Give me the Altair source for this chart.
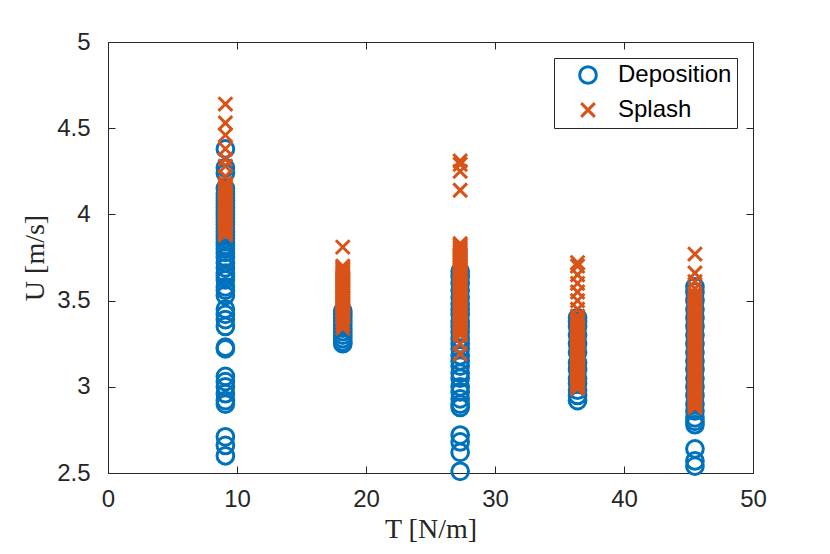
import altair as alt
import pandas as pd

# Surface tension columns (N/m)
T_values = [9.1, 18.2, 27.3, 36.4, 45.5]

# Impact velocities U (m/s)
dep_91 = [4.38, 4.27, 4.24, 4.15, 4.12, 4.10, 4.08, 4.06, 4.04, 4.02, 4.00, 3.98, 3.96,
          3.94, 3.92, 3.90, 3.88, 3.86, 3.84, 3.82, 3.80, 3.78, 3.75, 3.72, 3.69, 3.66,
          3.64, 3.62, 3.58, 3.56, 3.53, 3.45, 3.42, 3.39, 3.35, 3.23, 3.22, 3.06, 3.03,
          3.00, 2.96, 2.92, 2.90, 2.71, 2.66, 2.60]
spl_91 = [4.64, 4.53, 4.46, 4.38, 4.32, 4.28, 4.22, 4.18, 4.17, 4.16, 4.15, 4.14, 4.13,
          4.12, 4.11, 4.10, 4.09, 4.08, 4.07, 4.06, 4.05, 4.04, 4.03, 4.02, 4.01, 4.00,
          3.99, 3.98, 3.97, 3.96, 3.95, 3.94, 3.93, 3.92, 3.91, 3.90, 3.89, 3.88]

dep_182 = [3.44, 3.42, 3.40, 3.38, 3.36, 3.34, 3.32, 3.30, 3.28, 3.26, 3.25]
spl_182 = [3.81, 3.70, 3.69, 3.68, 3.67, 3.66, 3.65, 3.64, 3.63, 3.62, 3.61, 3.60, 3.59,
           3.58, 3.57, 3.56, 3.55, 3.54, 3.53, 3.52, 3.51, 3.50, 3.49, 3.48, 3.47, 3.46,
           3.45, 3.44, 3.43, 3.42, 3.41, 3.40, 3.38, 3.36, 3.34]

dep_273 = [3.67, 3.64, 3.60, 3.56, 3.52, 3.48, 3.45, 3.42, 3.38, 3.35, 3.32, 3.28, 3.25,
           3.22, 3.18, 3.15, 3.12, 3.08, 3.05, 3.00, 2.97, 2.93, 2.90, 2.88, 2.72, 2.68,
           2.62, 2.51]
spl_273 = [4.31, 4.29, 4.25, 4.14, 3.83, 3.82, 3.81, 3.80, 3.79, 3.78, 3.77, 3.76, 3.75,
           3.74, 3.73, 3.72, 3.71, 3.70, 3.69, 3.68, 3.67, 3.66, 3.65, 3.64, 3.63, 3.62,
           3.61, 3.60, 3.59, 3.58, 3.57, 3.56, 3.55, 3.54, 3.53, 3.52, 3.51, 3.50, 3.49,
           3.48, 3.47, 3.46, 3.45, 3.44, 3.43, 3.42, 3.41, 3.40, 3.39, 3.38, 3.37, 3.36,
           3.35, 3.34, 3.33, 3.32, 3.31, 3.30, 3.25, 3.19]

dep_364 = [3.40, 3.38, 3.35, 3.30, 3.25, 3.20, 3.14, 3.10, 3.05, 3.02, 2.98, 2.95, 2.92]
spl_364 = [3.72, 3.70, 3.65, 3.60, 3.55, 3.50, 3.45, 3.41, 3.39, 3.38, 3.37, 3.36, 3.35,
           3.34, 3.33, 3.32, 3.31, 3.30, 3.29, 3.28, 3.27, 3.26, 3.25, 3.24, 3.23, 3.22,
           3.21, 3.20, 3.19, 3.18, 3.17, 3.16, 3.15, 3.14, 3.13, 3.12, 3.11, 3.10, 3.09,
           3.08, 3.07, 3.06, 3.05, 3.04, 3.03, 3.02, 3.01, 3.00, 2.99]

dep_455 = [3.58, 3.55, 3.50, 3.45, 3.40, 3.35, 3.30, 3.25, 3.20, 3.15, 3.10, 3.05, 3.00,
           2.95, 2.90, 2.86, 2.82, 2.80, 2.78, 2.64, 2.57, 2.54]
spl_455 = [3.77, 3.66, 3.61, 3.57, 3.54, 3.53, 3.52, 3.51, 3.50, 3.49, 3.48, 3.47, 3.46,
           3.45, 3.44, 3.43, 3.42, 3.41, 3.40, 3.39, 3.38, 3.37, 3.36, 3.35, 3.34, 3.33,
           3.32, 3.31, 3.30, 3.29, 3.28, 3.27, 3.26, 3.25, 3.24, 3.23, 3.22, 3.21, 3.20,
           3.19, 3.18, 3.17, 3.16, 3.15, 3.14, 3.13, 3.12, 3.11, 3.10, 3.09, 3.08, 3.07,
           3.06, 3.05, 3.04, 3.03, 3.02, 3.01, 3.00, 2.99, 2.98, 2.97, 2.96, 2.95, 2.94,
           2.93, 2.92, 2.91, 2.90, 2.89, 2.88]

series_names = ["Deposition", "Splash"]
series_colors = ["#0072BD", "#D95319"]
series_shapes = ["circle", "M-0.82,-0.82L0.82,0.82M-0.82,0.82L0.82,-0.82"]

x_ticks = [0, 10, 20, 30, 40, 50]
y_ticks = [2.5, 3, 3.5, 4, 4.5, 5]

dep_lists = [dep_91, dep_182, dep_273, dep_364, dep_455]
spl_lists = [spl_91, spl_182, spl_273, spl_364, spl_455]

rows = []
for t, vals in zip(T_values, dep_lists):
    rows += [{"T": t, "U": u, "series": "Deposition"} for u in vals]
for t, vals in zip(T_values, spl_lists):
    rows += [{"T": t, "U": u, "series": "Splash"} for u in vals]
df = pd.DataFrame(rows)

INK = "#262626"
MSIZE = 280
x_scale = alt.Scale(domain=[0, 50], nice=False, zero=False)
y_scale = alt.Scale(domain=[2.5, 5], nice=False, zero=False)
color_scale = alt.Scale(domain=series_names, range=series_colors)
shape_scale = alt.Scale(domain=series_names, range=series_shapes)

tick_style = dict(domain=False, grid=False, ticks=True, tickSize=7, offset=-7,
                  tickColor=INK, tickWidth=1, tickOpacity=1)
common = dict(labelFont="Liberation Sans", labelFontSize=24, labelColor=INK,
              labelFlush=False, labelOverlap=False,
              titleFont="Liberation Serif", titleFontSize=28, titleColor=INK,
              titleFontWeight="normal", **tick_style)

bottom_axis = alt.Axis(orient="bottom", values=x_ticks, labelPadding=14, title="T [N/m]",
                       titlePadding=4, **common)
left_axis = alt.Axis(orient="left", values=y_ticks, format="~g", labelPadding=18,
                     title="U [m/s]", titlePadding=7, **common)
top_axis = alt.Axis(orient="top", values=x_ticks, labels=False, title=None, **tick_style)
right_axis = alt.Axis(orient="right", values=y_ticks, labels=False, title=None, **tick_style)

legend = alt.Legend(title=None, orient="none", legendX=446, legendY=16, padding=5,
                    strokeColor=INK, fillColor="white", labelFont="Liberation Sans",
                    labelFontSize=24, labelColor="black", symbolSize=MSIZE,
                    symbolStrokeWidth=3, symbolOffset=17, labelOffset=18, rowPadding=7)

base = alt.Chart(df)

dep = base.transform_filter(alt.datum.series == "Deposition").mark_point(
    filled=False, size=MSIZE, strokeWidth=3, opacity=1
).encode(
    x=alt.X("T:Q", scale=x_scale, axis=bottom_axis),
    y=alt.Y("U:Q", scale=y_scale, axis=left_axis),
    color=alt.Color("series:N", scale=color_scale, legend=legend),
    shape=alt.Shape("series:N", scale=shape_scale, legend=legend),
)

spl = base.transform_filter(alt.datum.series == "Splash").mark_point(
    filled=False, size=MSIZE, strokeWidth=3, opacity=1
).encode(
    x=alt.X("T:Q", scale=x_scale, axis=top_axis),
    y=alt.Y("U:Q", scale=y_scale, axis=right_axis),
    color=alt.Color("series:N", scale=color_scale, legend=legend),
    shape=alt.Shape("series:N", scale=shape_scale, legend=legend),
)

chart = alt.layer(dep, spl).resolve_axis(x="independent", y="independent").properties(
    width=645, height=431,
    autosize=alt.AutoSizeParams(type="none"),
    padding={"left": 100, "top": 34, "right": 69, "bottom": 73},
    background="white",
).configure_view(stroke=INK, strokeWidth=1)

chart.save("out.html", embed_options={"renderer": "svg", "actions": False})
